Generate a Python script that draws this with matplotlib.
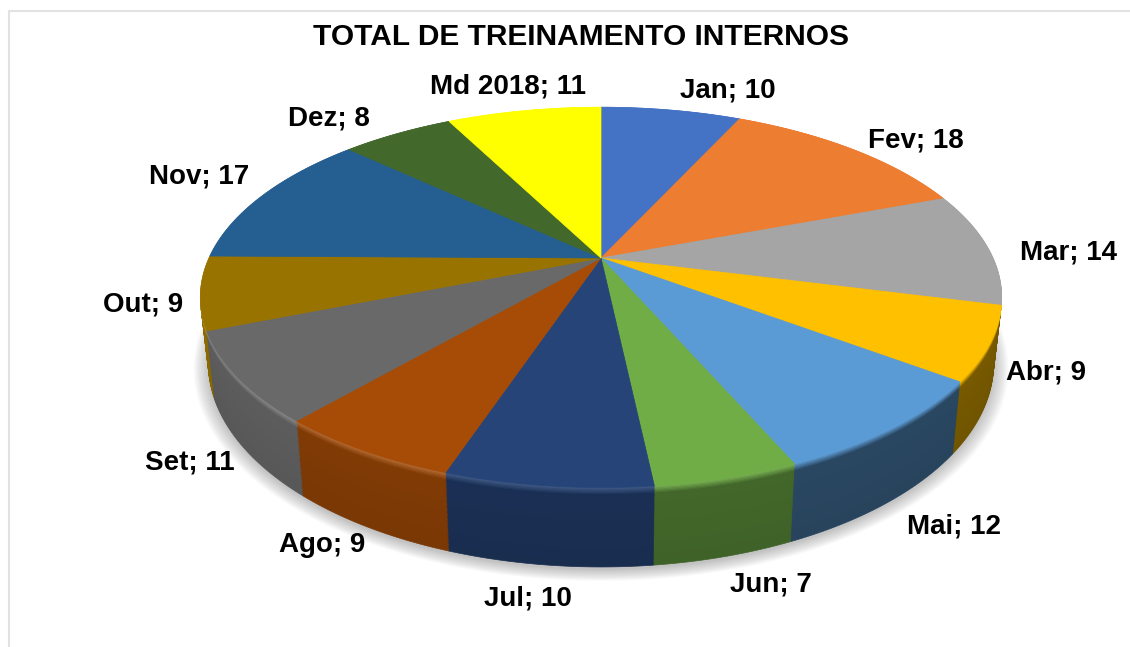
import numpy as np
import matplotlib
matplotlib.use("Agg")
import matplotlib.pyplot as plt

categories = ["Jan", "Fev", "Mar", "Abr", "Mai", "Jun", "Jul", "Ago", "Set", "Out", "Nov", "Dez", "Md 2018"]
values = [10, 18, 14, 9, 12, 7, 10, 9, 11, 9, 17, 8, 11]
colors = ["#4472C4", "#ED7D31", "#A5A5A5", "#FFC000", "#5B9BD5", "#70AD47", "#264478",
          "#A64C07", "#696969", "#997300", "#255E91", "#43682B", "#FFFF00"]
label_pos = [(728, 90), (916, 141), (1068, 252), (1046, 373), (954, 527), (771, 585), (528, 598),
             (322, 545), (190, 463), (143, 304), (199, 176), (329, 119), (508, 87)]

# perspective of the disc, fitted on the reference
cx, cy = 601, 258
rx, ry = 392, 182
k = 0.207
depth = 63

FONT = ["Liberation Sans", "DejaVu Sans"]


def project(theta, r=1.0, z=0.0):
    x = r * np.sin(theta)
    y = -r * np.cos(theta)
    s = 1 / (1 - k * y)
    shrink = 1 - 0.02 * z / depth
    return cx + rx * x * s * shrink, cy + ry * y * s + z * s


def sector(a, b, z=0.0, r=1.0):
    t = np.linspace(a, b, 80)
    xs, ys = project(t, r, z)
    x0, y0 = project(0.0, 0.0, z)
    return np.r_[x0, xs], np.r_[y0, ys]


def mix(c1, c2, f):
    return tuple(np.array(c1) * (1 - f) + np.array(c2) * f)


fig = plt.figure(figsize=(11.3, 6.47), dpi=100)
ax = fig.add_axes([0, 0, 1, 1])
ax.set_xlim(0, 1130)
ax.set_ylim(647, 0)
ax.axis("off")

# frame, the right edge is cut off in the picture
ax.plot([9, 9, 1130], [647, 10.5, 10.5], color="#E2E2E2", lw=1.5)

# shadow
t = np.linspace(0, 2 * np.pi, 300)
for i in range(14):
    xs, ys = project(t, 1.0 + i * 0.0028, depth + 2)
    ax.fill(xs, ys, color="#555555", alpha=0.028, lw=0, zorder=1)

angles = np.r_[0, np.cumsum(values)] / np.sum(values) * 2 * np.pi
rgb = [matplotlib.colors.to_rgb(c) for c in colors]
zlayers = np.arange(depth, -0.5, -1.0)
for z in zlayers:
    for i in range(len(values)):
        a, b = angles[i], angles[i + 1]
        mx = np.sin((a + b) / 2)
        factor = np.interp(mx, [-1, -0.5, -0.1, 0.33, 0.63, 1], [0.95, 0.78, 0.70, 0.58, 0.46, 0.47])
        side = mix((0, 0, 0), rgb[i], factor * (1 - 0.06 * z / depth))
        # lit rim along the front left, nothing on the right
        glow = max(0.0, 0.26 * (0.45 - 0.55 * mx))
        rim = mix(rgb[i], (1, 1, 1), glow)
        if z < 6:
            col = mix(rim, side, z / 6)
        else:
            col = side
        xs, ys = sector(a, b, z)
        ax.fill(xs, ys, color=col, lw=0.5, zorder=2)

for i in range(len(values)):
    xs, ys = sector(angles[i], angles[i + 1])
    ax.fill(xs, ys, color=colors[i], lw=0.5, zorder=3)

for i in range(len(values)):
    ax.text(label_pos[i][0], label_pos[i][1], f"{categories[i]}; {values[i]}", ha="center", va="center",
            fontsize=20, fontweight="bold", family=FONT, color="black", zorder=5)

ax.text(581, 37, "TOTAL DE TREINAMENTO INTERNOS", ha="center", va="center",
        fontsize=21.5, fontweight="bold", family=FONT, color="black", zorder=5)

fig.savefig("out.png", dpi=100)
